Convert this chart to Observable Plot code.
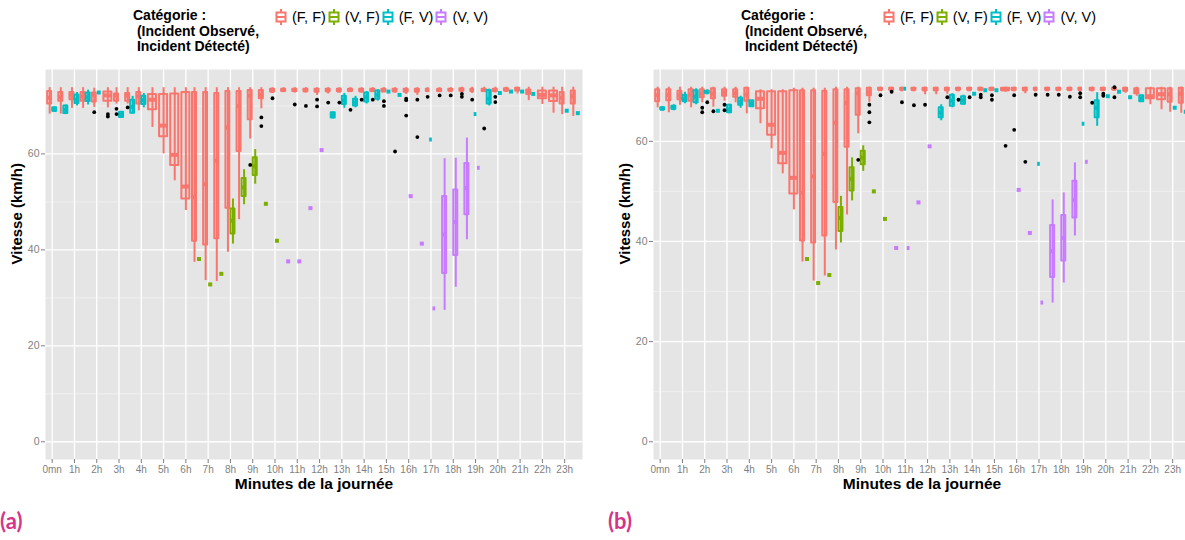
<!DOCTYPE html>
<html><head><meta charset="utf-8">
<script src="https://cdn.jsdelivr.net/npm/d3@7"></script>
<script src="https://cdn.jsdelivr.net/npm/@observablehq/plot@0.6"></script>
<style>
body{margin:0;width:1185px;height:540px;overflow:hidden;background:#fff;font-family:"Liberation Sans",Arial,sans-serif;position:relative;}
.panel{position:absolute;top:0;width:608px;height:540px;}
.ltitle{position:absolute;left:133px;top:8px;font-weight:bold;font-size:14px;line-height:15.5px;white-space:pre;color:#000;}
.lkeys{position:absolute;left:275px;top:9px;display:flex;align-items:center;font-size:14.5px;line-height:16px;}
.lkeys .k{display:flex;align-items:center;margin-right:2px;}
.lkeys svg{margin-right:5px;display:block;}
.chart{position:absolute;left:0;top:60px;}
.tag{position:absolute;left:0;top:507px;font-family:Lato,"Open Sans",sans-serif;font-weight:bold;font-size:22px;color:#D4358B;}
</style></head><body>
<script>
// ---------- shared labels ----------
const categories = ["(F, F)", "(V, F)", "(F, V)", "(V, V)"];
const palette = ["#F8766D", "#7CAE00", "#00BFC4", "#C77CFF"];
const hourLabels = ["0mn","1h","2h","3h","4h","5h","6h","7h","8h","9h","10h","11h","12h","13h","14h","15h","16h","17h","18h","19h","20h","21h","22h","23h"];
const yTicks = [0, 20, 40, 60];
const yMinor = [10, 30, 50, 70];
const legendTitle = "Catégorie :\n (Incident Observé,\n Incident Détecté)";
const xTitle = "Minutes de la journée";
const yTitle = "Vitesse (km/h)";
const panelTags = ["(a)", "(b)"];

// ---------- panel (a): [slot(30 min), lo, q1, median, q3, hi] or [slot, single value] ----------
const a_FF = [
 [0,68.3,70.4,71.7,73.0,73.8],[1,68.3,71.0,71.8,72.8,73.8],[2,69.5,71.3,72.2,72.8,73.8],[3,69.5,71.0,72.0,72.8,73.8],
 [4,69.7,70.8,72.3,72.7,73.7],[5,69.6,71.0,72.2,72.9,73.8],[6,70.4,71.0,72.2,72.5,73.8],[7,70.4,71.0,72.2,72.6,73.8],
 [8,69.0,70.4,72.0,72.8,73.8],[9,65.5,69.2,71.3,72.4,73.8],[10,60.0,63.6,65.9,72.4,73.8],[11,54.4,57.6,59.8,72.5,73.8],
 [12,48.2,50.6,53.2,72.8,73.8],[13,37.4,41.8,51.0,72.8,73.8],[14,33.6,41.0,53.7,72.8,73.8],[15,33.4,42.3,58.6,72.6,73.8],
 [16,39.5,48.7,65.5,73.0,73.8],[17,46.3,60.5,70.0,73.0,73.8],[18,63.1,67.1,72.1,73.2,73.8],[19,69.4,71.5,72.3,73.2,73.8],
 [20,72.6,72.9,73.2,73.5,73.8],[21,72.8,73.0,73.3,73.5,73.8],[22,72.7,73.0,73.3,73.5,73.8],[23,72.8,73.0,73.2,73.5,73.8],
 [24,72.2,72.9,73.2,73.5,73.8],[25,72.5,73.0,73.2,73.5,73.8],[26,72.7,73.0,73.2,73.5,73.8],[27,72.8,73.0,73.3,73.5,73.8],
 [28,72.7,73.0,73.2,73.5,73.8],[29,72.8,73.0,73.3,73.5,73.8],[30,72.8,73.0,73.2,73.5,73.8],[31,72.7,73.0,73.2,73.5,73.8],
 [32,72.4,72.9,73.2,73.5,73.8],[33,72.2,72.9,73.2,73.5,73.8],[34,72.8,73.0,73.3,73.5,73.8],[35,72.8,73.0,73.3,73.5,73.8],
 [36,72.8,73.1,73.3,73.5,73.8],[37,72.8,73.1,73.3,73.6,73.9],[38,72.6,73.0,73.3,73.5,73.9],[39,72.8,73.0,73.3,73.5,73.9],
 [40,72.7,73.0,73.3,73.5,73.9],[41,72.8,73.1,73.4,73.6,73.9],[42,72.5,73.1,73.5,73.7,73.9],[43,71.1,72.4,72.9,73.3,73.9],
 [44,70.3,71.5,72.3,73.1,73.9],[45,68.5,70.9,72.2,73.1,73.9],[46,68.2,70.4,71.7,72.8,73.9],[47,67.8,70.4,72.0,73.1,73.9]
];
const a_VF = [[13,38.1],[14,32.8],[15,35.0],[16,41.2,43.3,46.1,48.5,50.6],[17,49.4,51.1,53.0,54.9,56.7],[18,53.7,55.5,57.4,59.2,60.9],[19,49.6],[20,41.9]];
const a_FV = [
 [0,68.7,68.9,69.2,69.6,69.8],[1,68.2,68.4,69.2,70.0,70.2],[2,70.0,70.5,71.3,72.3,72.8],[3,70.2,70.9,71.8,72.7,73.3],
 [4,72.8],[6,67.5,67.6,68.1,68.7,68.8],[7,68.3,68.5,69.8,71.2,72.0],[8,69.6,70.3,71.2,72.0,72.6],
 [25,67.3,67.5,68.0,68.6,68.7],[26,69.5,70.3,71.2,72.0,72.6],[27,69.6,70.0,70.7,71.4,72.0],[28,70.4,70.8,71.8,72.7,73.0],
 [29,71.0,71.4,72.3,73.1,73.4],[30,73.0],[31,72.3],[34,63.0],[38,68.3],[39,70.0,70.4,71.5,73.2,73.5],
 [40,72.7],[41,73.0],[42,73.0],[43,72.5],[46,69.0],[47,68.5]
];
const a_VV = [[21,37.6],[22,37.6],[23,48.7],[24,60.8],[32,51.2],[33,41.3],[34,27.8],
 [35,27.4,35.1,43.2,51.1,59.0],[36,32.2,38.8,45.8,52.5,59.1],[37,42.1,47.3,52.9,58.0,63.3],[38,57.1]];
// outliers: [slot, category index, value]
const a_out = [[4,0,68.7],[5,0,68.3],[5,0,67.8],[6,0,69.4],[6,0,68.3],[7,0,69.7],[18,0,57.7],[19,0,67.6],[19,0,65.8],
 [20,0,71.6],[22,0,70.3],[23,0,70.0],[24,0,71.3],[24,0,69.9],[25,0,70.7],[26,0,70.7],[27,0,69.2],[28,0,71.3],[29,0,71.3],
 [30,0,71.0],[30,0,70.0],[31,0,60.5],[32,0,71.5],[32,0,71.2],[32,0,68.0],[33,0,71.3],[33,0,63.5],[34,0,71.9],[35,0,72.2],
 [36,0,72.2],[37,0,72.5],[37,0,71.9],[38,0,71.3],[39,0,65.3],[40,0,71.9],[40,0,70.8]];

// ---------- panel (b) ----------
const b_FF = [
 [0,66.7,67.9,69.2,70.3,70.8],[1,65.7,68.1,69.3,70.3,70.8],[2,67.2,68.3,69.2,70.0,70.8],[3,66.7,68.0,69.3,70.3,70.8],
 [4,67.7,68.7,69.5,70.3,70.8],[5,66.8,68.5,69.5,70.5,70.8],[6,68.0,69.0,69.7,70.3,70.8],[7,67.7,68.8,69.6,70.3,70.8],
 [8,65.5,68.0,69.3,70.6,70.8],[9,63.5,66.5,68.5,69.9,70.3],[10,58.5,61.2,63.3,69.9,70.3],[11,53.5,55.5,57.7,69.9,70.3],
 [12,46.3,49.5,52.7,70.1,70.6],[13,35.9,40.1,49.7,70.1,70.6],[14,32.1,39.7,53.0,70.1,70.6],[15,33.1,41.1,57.5,70.0,70.6],
 [16,38.3,47.8,63.7,70.3,70.8],[17,45.3,58.8,67.7,70.3,70.8],[18,61.5,65.2,69.6,70.5,70.8],[19,67.8,69.1,69.9,70.6,70.8],
 [20,70.0,70.2,70.4,70.6,70.8],[21,70.0,70.2,70.4,70.6,70.8],[22,69.9,70.2,70.4,70.6,70.8],[23,69.9,70.2,70.4,70.6,70.8],
 [24,69.3,70.1,70.4,70.6,70.8],[25,69.3,70.1,70.4,70.6,70.8],[26,69.4,70.1,70.4,70.6,70.8],[27,69.9,70.2,70.4,70.6,70.8],
 [28,69.9,70.2,70.4,70.6,70.8],[29,70.0,70.2,70.4,70.6,70.8],[30,70.0,70.2,70.4,70.6,70.8],[31,69.8,70.1,70.4,70.6,70.8],
 [32,69.9,70.2,70.4,70.6,70.8],[33,69.5,70.1,70.4,70.6,70.8],[34,69.9,70.2,70.4,70.6,70.8],[35,70.0,70.2,70.4,70.6,70.8],
 [36,70.0,70.2,70.4,70.6,70.8],[37,70.0,70.2,70.4,70.6,70.8],[38,70.0,70.2,70.4,70.6,70.8],[39,69.9,70.2,70.4,70.6,70.8],
 [40,70.0,70.2,70.4,70.6,70.8],[41,70.0,70.3,70.5,70.6,70.7],[42,69.6,70.0,70.3,70.6,70.8],[43,69.0,69.5,70.0,70.5,70.8],
 [44,67.3,68.5,69.0,70.5,70.8],[45,66.3,68.3,69.4,70.5,70.8],[46,65.8,67.8,69.4,70.5,70.8],[47,65.6,67.6,69.5,70.6,70.8]
];
const b_VF = [[13,36.5],[14,31.7],[15,33.3],[16,39.7,42.0,44.7,46.8,49.0],[17,48.1,50.1,52.5,54.7,56.7],[18,54.0,55.3,56.8,58.0,59.1],[19,50.0],[20,44.5]];
const b_FV = [
 [0,66.1,66.3,66.5,66.7,66.9],[1,66.1,66.4,66.7,67.0,67.3],[2,67.5,67.9,68.5,69.2,69.8],[3,67.3,67.7,68.9,70.1,70.5],
 [4,69.3,69.6,69.8,70.0,70.3],[5,66.1],[6,65.5,65.7,66.4,67.2,67.4],[7,66.6,67.2,67.9,68.6,69.0],[8,66.9,66.9,67.5,68.1,68.1],
 [22,70.5],[25,64.1,64.7,65.7,66.7,67.3],[26,66.7,67.0,68.1,69.2,69.5],[27,67.2,67.4,68.2,68.9,69.2],[28,69.5],[29,70.2],[30,70.2],
 [34,55.5],[38,63.5],[39,63.0,64.7,66.7,68.1,69.7],[40,69.0],[41,69.9],[42,68.8],[43,67.9,67.9,68.5,69.1,69.1],[46,66.7],[47,65.9]
];
const b_VV = [[21,38.7],[22,38.7],[23,47.8],[24,59.0],[32,50.3],[33,41.7],[34,27.8],
 [35,27.7,32.8,38.1,43.2,48.3],[36,31.7,36.1,40.7,45.2,49.7],[37,41.1,44.7,48.3,52.0,55.7],[38,55.9]];
const b_out = [[4,0,66.7],[4,0,65.8],[4,2,67.8],[5,0,66.0],[6,0,67.3],[6,0,66.2],[18,0,56.3],[19,0,67.3],[19,0,65.8],[19,0,63.8],
 [20,0,69.2],[21,0,69.9],[22,0,67.8],[23,0,67.2],[24,0,67.3],[26,0,68.8],[27,0,68.3],[28,0,68.8],[29,0,69.3],[29,0,68.8],
 [30,0,69.2],[30,0,68.3],[31,0,59.1],[32,0,69.2],[32,0,62.3],[33,0,55.9],[34,0,69.3],[35,0,69.3],[36,0,69.3],[37,0,68.9],
 [38,0,69.6],[38,0,68.8],[39,0,67.7],[40,0,69.5],[40,0,69.1],[41,0,70.8],[41,0,68.8]];

// ---------- build ----------
function buildPanel(rowsByCat, outRows) {
  const boxes = [];
  rowsByCat.forEach((rows, ci) => rows.forEach(r => {
    const slot = r[0];
    const s = r.length === 2 ? [r[1], r[1], r[1], r[1], r[1]] : r.slice(1);
    boxes.push({slot, ci, cat: categories[ci], lo: s[0], q1: s[1], med: s[2], q3: s[3], hi: s[4]});
  }));
  const pos = new Map();
  for (const [slot, arr] of d3.group(boxes, d => d.slot)) {
    arr.sort((a, b) => a.ci - b.ci);
    const n = arr.length, w = 0.9 / n;
    arr.forEach((d, i) => {
      d.x = slot + (i - (n - 1) / 2) * w;
      d.x1 = d.x - w * 0.4;
      d.x2 = d.x + w * 0.4;
      pos.set(slot + "|" + d.ci, d.x);
    });
  }
  const outliers = outRows.map(([slot, ci, v]) => ({x: pos.has(slot + "|" + ci) ? pos.get(slot + "|" + ci) : slot, v}));
  const yMax = d3.max(boxes, d => d.hi);
  return {boxes, outliers, yMax};
}

const hourSlots = hourLabels.map((_, i) => i * 2);

function drawPanel(p) {
  return Plot.plot({
    width: 608, height: 444,
    marginTop: 9, marginBottom: 45, marginLeft: 45, marginRight: 26,
    x: {domain: [-0.6, 47.6]},
    y: {domain: [-0.05 * p.yMax, 1.05 * p.yMax]},
    color: {domain: categories, range: palette},
    style: {fontFamily: "'Liberation Sans', Arial, sans-serif", fontSize: "10px", background: "white", overflow: "visible"},
    marks: [
      Plot.frame({fill: "#E5E5E5", stroke: "none"}),
      Plot.ruleY(yMinor, {stroke: "#F2F2F2", strokeWidth: 0.8}),
      Plot.ruleY(yTicks, {stroke: "#FFFFFF", strokeWidth: 1.3}),
      Plot.ruleX(hourSlots, {stroke: "#FFFFFF", strokeWidth: 1.3}),
      Plot.axisY({ticks: yTicks, tickSize: 4, tickPadding: 2, stroke: "#7F7F7F", fill: "#7F7F7F", fontSize: 10.5, label: null}),
      Plot.axisX({ticks: hourSlots, tickFormat: d => hourLabels[d / 2], tickSize: 4, tickPadding: 2, stroke: "#7F7F7F", fill: "#7F7F7F", fontSize: 10, label: null}),
      Plot.text([yTitle], {frameAnchor: "left", dx: -28, rotate: -90, fontWeight: "bold", fontSize: 15, fill: "#000"}),
      Plot.text([xTitle], {frameAnchor: "bottom", dy: 29, fontWeight: "bold", fontSize: 15.5, fill: "#000"}),
      Plot.ruleX(p.boxes, {x: "x", y1: "lo", y2: "hi", stroke: "cat", strokeWidth: 2}),
      Plot.rect(p.boxes, {x1: "x1", x2: "x2", y1: "q1", y2: "q3", stroke: "cat", strokeWidth: 2, fill: "cat", fillOpacity: 0.12, strokeLinejoin: "round"}),
      Plot.ruleY(p.boxes, {x1: "x1", x2: "x2", y: "med", stroke: "cat", strokeWidth: 4}),
      Plot.dot(p.outliers, {x: "x", y: "v", r: 1.9, fill: "#000", stroke: "none"})
    ]
  });
}

function legendIcon(color) {
  const ns = "http://www.w3.org/2000/svg";
  const svg = document.createElementNS(ns, "svg");
  svg.setAttribute("width", 12); svg.setAttribute("height", 16);
  svg.innerHTML = `<line x1="6" x2="6" y1="0" y2="16" stroke="${color}" stroke-width="2"/>
    <rect x="1.5" y="3.5" width="9" height="9" fill="#fff" stroke="${color}" stroke-width="2"/>
    <line x1="1.5" x2="10.5" y1="8" y2="8" stroke="${color}" stroke-width="2"/>`;
  return svg;
}

const panels = [
  buildPanel([a_FF, a_VF, a_FV, a_VV], a_out),
  buildPanel([b_FF, b_VF, b_FV, b_VV], b_out)
];

panels.forEach((p, idx) => {
  const div = document.createElement("div");
  div.className = "panel";
  div.style.left = (idx * 608) + "px";
  const t = document.createElement("div");
  t.className = "ltitle"; t.textContent = legendTitle;
  div.appendChild(t);
  const keys = document.createElement("div");
  keys.className = "lkeys";
  categories.forEach((c, i) => {
    const k = document.createElement("div"); k.className = "k";
    k.appendChild(legendIcon(palette[i]));
    const s = document.createElement("span"); s.textContent = c;
    k.appendChild(s); keys.appendChild(k);
  });
  div.appendChild(keys);
  const ch = document.createElement("div"); ch.className = "chart";
  ch.appendChild(drawPanel(p));
  div.appendChild(ch);
  const tag = document.createElement("div"); tag.className = "tag"; tag.textContent = panelTags[idx];
  div.appendChild(tag);
  document.body.appendChild(div);
});
</script>
</body></html>
